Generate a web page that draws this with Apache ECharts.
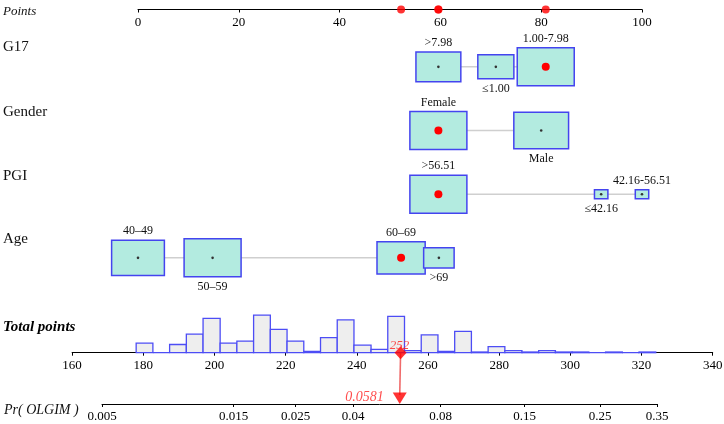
<!DOCTYPE html>
<html><head><meta charset="utf-8">
<script src="https://cdn.jsdelivr.net/npm/echarts@6/dist/echarts.min.js"></script>
<style>html,body{margin:0;padding:0;background:#fff}#c{width:724px;height:424px}</style>
</head><body><div id="c"></div>
<script>
// ---------------- data ----------------
const variableNames = ['G17', 'Gender', 'PGI', 'Age'];
const g17Levels = ['>7.98', '≤1.00', '1.00-7.98'];
const g17Points = [59.6, 71.0, 80.9];
const g17Freq = [0.31, 0.20, 0.50];
const genderLevels = ['Female', 'Male'];
const genderPoints = [59.6, 80.0];
const genderFreq = [0.52, 0.48];
const pgiLevels = ['>56.51', '≤42.16', '42.16-56.51'];
const pgiPoints = [59.6, 91.9, 100];
const pgiFreq = [0.90, 0.05, 0.05];
const ageLevels = ['40–49', '50–59', '60–69', '>69'];
const agePoints = [0, 14.8, 52.2, 59.7];
const ageFreq = [0.30, 0.35, 0.25, 0.10];
const selectedLevel = [2, 0, 0, 2];
const pointsTicks = [0, 20, 40, 60, 80, 100];
const totalTicks = [160, 180, 200, 220, 240, 260, 280, 300, 320, 340];
const histEdges = [178.0,182.7,187.4,192.1,196.8,201.6,206.3,211.0,215.7,220.4,225.1,229.8,234.5,239.2,244.0,248.7,253.4,258.1,262.8,267.5,272.2,276.9,281.6,286.4,291.1,295.8,300.5,305.2,309.9,314.6,319.3,324.0];
const histCounts = [14,0,12,27,50,14,17,55,34,17,2,22,48,11,5,53,3,26,2,31,1,9,3,1,3,1,1,0,1,0,1];
const prTicks = [0.005, 0.015, 0.025, 0.04, 0.08, 0.15, 0.25, 0.35];
const predictedProb = 0.0581;

// ---------------- build ----------------
const SERIF = '"Liberation Serif", "Times New Roman", serif';
const rows = [
  { levels: g17Levels, points: g17Points, freq: g17Freq },
  { levels: genderLevels, points: genderPoints, freq: genderFreq },
  { levels: pgiLevels, points: pgiPoints, freq: pgiFreq },
  { levels: ageLevels, points: agePoints, freq: ageFreq }
];
const logit = p => Math.log(p / (1 - p));

const boxData = [];
const connData = [];
const selPoints = [];
rows.forEach((r, v) => {
  const fmax = Math.max(...r.freq);
  r.levels.forEach((lab, i) => {
    boxData.push({ value: [r.points[i], v + 1, r.freq[i] / fmax, i % 2, i === selectedLevel[v] ? 1 : 0], label: lab });
  });
  connData.push([Math.min(...r.points), Math.max(...r.points), v + 1]);
  selPoints.push(r.points[selectedLevel[v]]);
});
const totalScore = selPoints.reduce((a, b) => a + b, 0);
const histData = histCounts.map((c, i) => [histEdges[i], histEdges[i + 1], c]);

const BOX_W = 57, BOX_H = 38;

const chart = echarts.init(document.getElementById('c'), null, { renderer: 'canvas' });
const axisBase = {
  axisLine: { lineStyle: { color: '#000', width: 1 } },
  axisTick: { length: 3, lineStyle: { color: '#000' } },
  splitLine: { show: false },
  axisLabel: { color: '#000', fontFamily: SERIF, fontSize: 13, margin: 7, showMinLabel: true, showMaxLabel: true }
};

const option = {
  animation: false,
  backgroundColor: '#fff',
  grid: [
    { left: 138, right: 82, top: 0, height: 9.5, outerBoundsMode: 'none' },
    { left: 138, right: 82, top: 35, height: 254.7, outerBoundsMode: 'none' },
    { left: 72.1, right: 11.3, top: 311.6, height: 41.1, outerBoundsMode: 'none' },
    { left: 102, right: 67, top: 380, height: 24, outerBoundsMode: 'none' }
  ],
  xAxis: [
    Object.assign({}, axisBase, { gridIndex: 0, type: 'value', min: 0, max: 100, interval: 20, position: 'bottom' }),
    { gridIndex: 1, type: 'value', min: 0, max: 100, show: false },
    Object.assign({}, axisBase, { gridIndex: 2, type: 'value', min: 160, max: 340, interval: 20, position: 'bottom',
      axisLabel: Object.assign({}, axisBase.axisLabel, { margin: 6 }) }),
    Object.assign({}, axisBase, { gridIndex: 3, type: 'value', min: logit(prTicks[0]), max: logit(prTicks[prTicks.length - 1]), position: 'bottom',
      axisTick: Object.assign({}, axisBase.axisTick, { customValues: prTicks.map(logit) }),
      axisLabel: Object.assign({}, axisBase.axisLabel, { margin: 6, customValues: prTicks.map(logit),
        formatter: val => {
          let best = prTicks[0];
          prTicks.forEach(p => { if (Math.abs(logit(p) - val) < Math.abs(logit(best) - val)) best = p; });
          return String(best);
        } }) })
  ],
  yAxis: [
    { gridIndex: 0, type: 'value', min: 0, max: 1, show: false },
    { gridIndex: 1, type: 'value', min: 0.5, max: 4.5, inverse: true, show: false },
    { gridIndex: 2, type: 'value', min: 0, max: 60, show: false },
    { gridIndex: 3, type: 'value', min: 0, max: 1, show: false }
  ],
  graphic: [],
  series: [
    // connectors
    {
      type: 'custom', xAxisIndex: 1, yAxisIndex: 1, z: 1, data: connData,
      renderItem: (params, api) => {
        const a = api.coord([api.value(0), api.value(2)]);
        const b = api.coord([api.value(1), api.value(2)]);
        return { type: 'line', shape: { x1: a[0], y1: a[1], x2: b[0], y2: b[1] }, style: { stroke: '#cfcfcf', lineWidth: 1.5 } };
      }
    },
    // boxes
    {
      type: 'custom', xAxisIndex: 1, yAxisIndex: 1, z: 2, data: boxData,
      renderItem: (params, api) => {
        const c = api.coord([api.value(0), api.value(1)]);
        const s = Math.sqrt(api.value(2));
        const w = BOX_W * s, h = BOX_H * s;
        const below = api.value(3) === 1;
        const sel = api.value(4) === 1;
        const lab = boxData[params.dataIndex].label;
        return {
          type: 'group', children: [
            { type: 'rect', shape: { x: c[0] - w / 2, y: c[1] - h / 2, width: w, height: h },
              style: { fill: '#b3ebe0', stroke: '#4444ef', lineWidth: 1.5 } },
            { type: 'circle', shape: { cx: c[0], cy: c[1], r: sel ? 4 : 1.3 },
              style: { fill: sel ? '#ff0000' : '#333' } },
            { type: 'text', style: { text: lab, x: c[0], y: below ? c[1] + h / 2 + 9.7 : c[1] - h / 2 - 9,
              align: 'center', verticalAlign: 'middle', font: '12px ' + SERIF, fill: '#111' } }
          ]
        };
      }
    },
    // red dots on points axis
    {
      type: 'scatter', xAxisIndex: 0, yAxisIndex: 0, z: 5, symbol: 'circle', symbolSize: 8,
      itemStyle: { color: '#ff0000' }, data: selPoints.map(p => [p, 0])
    },
    // histogram
    {
      type: 'custom', xAxisIndex: 2, yAxisIndex: 2, z: 1, data: histData,
      renderItem: (params, api) => {
        const a = api.coord([api.value(0), api.value(2)]);
        const b = api.coord([api.value(1), 0]);
        return { type: 'rect', shape: { x: a[0], y: a[1], width: b[0] - a[0], height: b[1] - a[1] },
          style: { fill: '#eeeeee', stroke: '#4d4df5', lineWidth: 1.3 } };
      }
    },
    // total score marker
    {
      type: 'scatter', xAxisIndex: 2, yAxisIndex: 2, z: 6, symbol: 'diamond', symbolSize: [12, 13],
      itemStyle: { color: '#ff0000' }, data: [[totalScore, 0]],
      label: { show: true, position: 'inside', offset: [-1, -7], formatter: () => String(Math.round(totalScore)),
        color: '#ff2020', fontFamily: SERIF, fontStyle: 'italic', fontSize: 13 }
    },
    // probability marker
    {
      type: 'scatter', xAxisIndex: 3, yAxisIndex: 3, z: 6, symbol: 'triangle', symbolRotate: 180, symbolSize: [14, 11.5],
      symbolOffset: [0, -5.8], itemStyle: { color: '#ff0000' }, data: [[logit(predictedProb), 0]],
      label: { show: true, position: 'left', distance: 9, offset: [0, -1], formatter: () => String(predictedProb),
        color: '#ff2020', fontFamily: SERIF, fontStyle: 'italic', fontSize: 14 }
    }
  ]
};
chart.setOption(option);

// titles and connector line from total to probability
const titleY = [46.7, 111.7, 176, 239.3];
const g = [
  { type: 'text', x: 3, y: 12, style: { text: 'Points', font: 'italic 13px ' + SERIF, fill: '#111', verticalAlign: 'middle' } },
  { type: 'text', x: 3, y: 327, style: { text: 'Total points', font: 'italic bold 15px ' + SERIF, fill: '#000', verticalAlign: 'middle' } },
  { type: 'text', x: 4, y: 410, style: { text: 'Pr( OLGIM )', font: 'italic 14px ' + SERIF, fill: '#111', verticalAlign: 'middle' } }
];
variableNames.forEach((n, i) => g.push({ type: 'text', x: 3, y: titleY[i], style: { text: n, font: '15px ' + SERIF, fill: '#111', verticalAlign: 'middle' } }));
const p1 = chart.convertToPixel({ gridIndex: 2 }, [totalScore, 0]);
const p2 = chart.convertToPixel({ gridIndex: 3 }, [logit(predictedProb), 0]);
g.push({ type: 'line', z: 4, shape: { x1: p1[0], y1: p1[1], x2: p2[0], y2: p2[1] - 9 }, style: { stroke: '#f06b6b', lineWidth: 1.6 } });
chart.setOption({ graphic: g });
</script></body></html>
